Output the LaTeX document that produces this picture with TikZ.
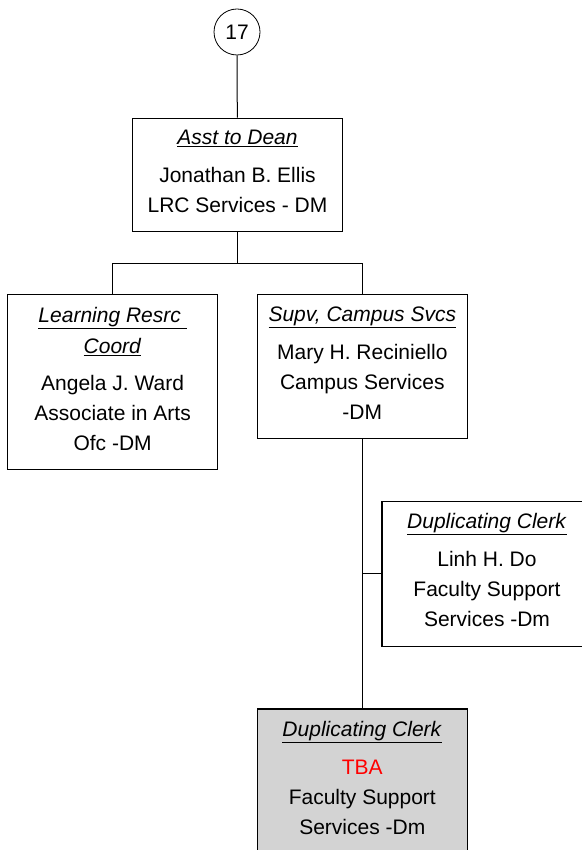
\documentclass[tikz,border=0pt]{standalone}
\usepackage{fontspec}
\setmainfont{Liberation Sans}
\usepackage{tikz}
\usetikzlibrary{positioning,calc}
\usepackage{xcolor}
\definecolor{vacant}{RGB}{211,211,211}

\newcommand{\posttitle}[1]{\underline{\textit{#1}}}
\newcommand{\postend}{\rule[-7pt]{0pt}{7pt}}

\begin{document}
\begin{tikzpicture}[
    x=1pt, y=-1pt,
    every node/.style={font=\fontsize{21}{30}\selectfont},
    post/.style={draw, line width=1.2pt, rectangle, anchor=north,
        minimum width=210pt, align=center, inner sep=0pt},
    link/.style={line width=1pt}
]
    \useasboundingbox (0,0) rectangle (581,850);

    \node[draw, circle, line width=0.8pt, minimum size=46pt, inner sep=0pt] (page) at (237,32) {17};

    \node[post, minimum height=113pt] (asst) at (237.5,117.7)
        {\posttitle{Asst to Dean}\\[8pt]
         Jonathan B. Ellis\\ LRC Services - DM\postend};
    \node[post, minimum height=175pt] (lrc) at (112.6,294)
        {\posttitle{Learning Resrc }\\[1pt] \posttitle{Coord}\\[7pt]
         Angela J. Ward\\ Associate in Arts\\ Ofc -DM\postend};
    \node[post, minimum height=144pt] (supv) at (362.3,294)
        {\posttitle{Supv, Campus Svcs}\\[8pt]
         Mary H. Reciniello\\ Campus Services\\ -DM\postend};
    \node[post, minimum height=145pt] (linh) at (487,500.7)
        {\posttitle{Duplicating Clerk}\\[8pt]
         Linh H. Do\\ Faculty Support\\ Services -Dm\postend};
    \node[post, minimum height=145pt, fill=vacant] (tba) at (362.3,708.3)
        {\posttitle{Duplicating Clerk}\\[8pt]
         \textcolor{red}{TBA}\\ Faculty Support\\ Services -Dm\postend};

    % connectors
    \draw[link] (page) -- (asst);
    \coordinate (fork) at ($(asst.south)+(0,31.3)$);
    \draw[link] (asst.south) -- (fork);
    \draw[link] (lrc.north) |- (fork) -| (supv.north);
    \draw[link] (supv.south) -- (tba.north);
    \draw[link] (linh.west) -- (linh.west -| supv.south);
\end{tikzpicture}
\end{document}
